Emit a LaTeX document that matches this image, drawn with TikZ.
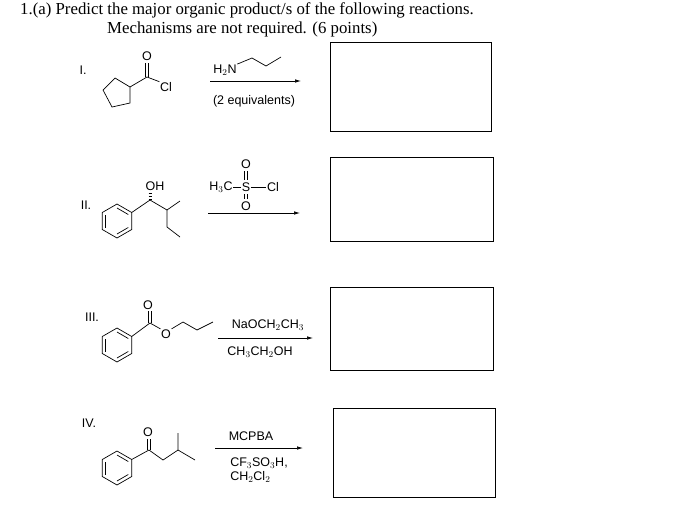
\documentclass[tikz,border=0pt]{standalone}
\usepackage{fontspec}
\setmainfont{Liberation Serif}
\newfontfamily\chemfont{Liberation Sans}
\usetikzlibrary{arrows.meta}
\tikzset{
  bond/.style={line width=0.7pt},
  chem/.style={font=\chemfont\fontsize{12.5}{14}\selectfont, inner sep=0.5pt},
  ansbox/.style={draw, line width=0.8pt},
  rxn/.style={line width=0.7pt, -{Latex[length=6pt,width=3.5pt]}},
}
\newcommand{\benzring}[2]{% center x, center y
  \draw[bond] (#1,#2) ++(90:17) -- ++(-30:17) -- ++(-90:17) -- ++(-150:17) -- ++(150:17) -- ++(90:17) -- cycle;
  \draw[bond] ($(#1,#2)+(150:13)$) -- ($(#1,#2)+(210:13)$);
  \draw[bond] ($(#1,#2)+(270:13)$) -- ($(#1,#2)+(330:13)$);
  \draw[bond] ($(#1,#2)+(30:13)$) -- ($(#1,#2)+(90:13)$);
}
\usetikzlibrary{calc}
\begin{document}
\begin{tikzpicture}[x=1pt,y=-1pt]
\useasboundingbox (0,0) rectangle (700,515);

% title
\node[anchor=west, font=\fontsize{16.8}{19}\selectfont, inner sep=0] (title) at (20,10) {1.(a) Predict the major organic product/s of the following reactions.};
\node[anchor=west, font=\fontsize{16.8}{19}\selectfont, inner sep=0] (title2) at (107,29) {Mechanisms are not required. (6 points)};

% answer boxes
\draw[ansbox] (330,42) rectangle (491,131);
\draw[ansbox] (330,157) rectangle (493,241);
\draw[ansbox] (330,287) rectangle (493,370);
\draw[ansbox] (333,408) rectangle (495,497);

% I.
\node[chem] (lblI) at (83,70) {I.};
\draw[bond] (115,78) -- (103,90) -- (112,107) -- (130,103) -- (130,87) -- cycle;
\node[chem] (oI) at (147,56) {O};
\node[chem] (clI) at (166,87) {Cl};
\draw[bond] (130,87) -- (147,77) -- (clI.north west);
\draw[bond] (145.5,77) -- (145.5,63);
\draw[bond] (148.5,77) -- (148.5,63);
\node[chem] (amine) at (225,70) {H$_2$N};
\coordinate (c1) at (252,58);
\coordinate (c2) at (266,66);
\coordinate (c3) at (281,57);
\draw[bond] (amine.north east) -- (c1) -- (c2) -- (c3);
\coordinate (aI) at (210,81);
\coordinate (bI) at (301,81);
\draw[rxn] (aI) -- (bI);
\node[chem] (eqI) at (254,101) {(2 equivalents)};

% II.
\node[chem] (lblII) at (86,205) {II.};
\benzring{117}{221}
\node[chem] (ohII) at (155,186) {OH};
\draw[bond] (131.7,212.5) -- (150,200) -- (167,210) -- (180,201);
\draw[bond] (167,210) -- (167,227) -- (180,237);
\foreach \y in {193,196,199} \draw[bond] (148.5,\y) -- (151.5,\y);
\node[chem] (h3c) at (221,187) {H$_3$C};
\node[chem] (sII) at (246,187) {S};
\node[chem] (clII) at (273,187) {Cl};
\node[chem] (otop) at (246,164) {O};
\node[chem] (obot) at (246,206) {O};
\draw[bond] (h3c) -- (sII) -- (clII);
\draw[bond] (244.5,171) -- (244.5,180) (247.5,171) -- (247.5,180);
\draw[bond] (244.5,194) -- (244.5,199) (247.5,194) -- (247.5,199);
\coordinate (aII) at (208,213);
\coordinate (bII) at (300,213);
\draw[rxn] (aII) -- (bII);

% III.
\node[chem] (lblIII) at (92,317) {III.};
\benzring{117}{345}
\node[chem] (oIII) at (148,305) {O};
\node[chem] (oeIII) at (166,334) {O};
\draw[bond] (131.7,336.5) -- (150,323) -- (oeIII.north west);
\draw[bond] (148.5,323) -- (148.5,311) (151.5,323) -- (151.5,311);
\draw[bond] (oeIII.north east) -- (183,322) -- (197,330) -- (213,322);
\node[chem] (naoet) at (268,325) {NaOCH$_2$CH$_3$};
\coordinate (aIII) at (218,338);
\coordinate (bIII) at (313,338);
\draw[rxn] (aIII) -- (bIII);
\node[chem] (etoh) at (260,352) {CH$_3$CH$_2$OH};

% IV.
\node[chem] (lblIV) at (89,423) {IV.};
\benzring{117}{468}
\node[chem] (oIV) at (148,432) {O};
\draw[bond] (131.7,459.5) -- (149,450) -- (163,460) -- (178,450) -- (178,433);
\draw[bond] (178,450) -- (195,460);
\draw[bond] (147.5,450) -- (147.5,439) (150.5,450) -- (150.5,439);
\node[chem] (mcpba) at (251,436) {MCPBA};
\coordinate (aIV) at (215,448);
\coordinate (bIV) at (303,448);
\draw[rxn] (aIV) -- (bIV);
\node[chem, align=left] (tfa) at (259,470) {CF$_3$SO$_3$H,\\CH$_2$Cl$_2$};
\end{tikzpicture}
\end{document}
